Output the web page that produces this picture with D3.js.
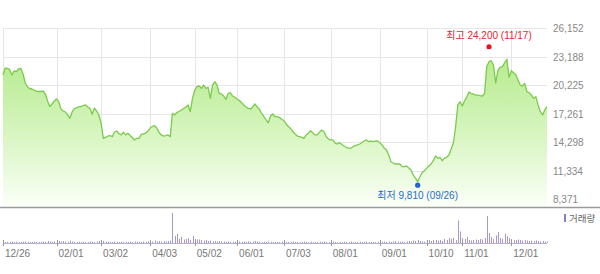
<!DOCTYPE html>
<html><head><meta charset="utf-8">
<script src="https://cdn.jsdelivr.net/npm/d3@7/dist/d3.min.js"></script>
<style>
body{margin:0;background:#fff;}
svg{display:block;font-family:"Liberation Sans",Arial,"Noto Sans CJK KR",sans-serif;}
</style>
</head><body>
<svg id="chart" width="600" height="274"></svg>
<script>
// ---- data ----
const startDate = "2016-12-26";
const endDate = "2017-12-26";
const holidays = ["2016-12-30","2017-01-27","2017-01-30","2017-03-01","2017-05-01","2017-05-03",
  "2017-05-05","2017-05-09","2017-06-06","2017-08-15","2017-10-02","2017-10-03","2017-10-04",
  "2017-10-05","2017-10-06","2017-10-09","2017-12-25"];

const closes = [
21260,21990,21940,21840,21260,21680,21630,21890,21940,21370,
20430,20020,19860,19810,19700,19600,19550,19550,19600,19290,
18560,17970,18250,18560,18770,18490,17730,17520,17420,17110,
16760,17420,17780,17860,17940,17990,18090,18150,17940,17800,
17180,17830,17520,17110,16270,14680,14770,14920,14970,14850,
15340,15440,15180,15030,15310,15030,15200,14970,14770,14510,
14680,14680,15080,15130,15230,15440,15750,15910,15990,15750,
15290,15030,14920,14970,15030,14850,17280,17110,17370,17470,
17630,17780,17940,18150,17450,18840,19700,20070,20120,19880,
20220,19880,19990,18840,20220,20570,20220,19360,19290,19080,
18740,19360,19420,19080,18950,18770,18610,18380,18150,17940,
17800,17730,17940,18250,17940,17700,17280,16950,16590,16300,
17000,17210,16930,16930,16850,16660,16530,16170,15910,15700,
15390,15130,14920,14850,14770,14680,15030,15230,15470,15230,
15030,15030,15340,15550,15370,14850,14610,14510,14510,14190,
14090,14230,14040,13880,13750,13670,13640,13810,13930,13990,
14090,14250,14400,14510,14330,14400,14330,14400,14400,14230,
13990,13670,13470,12950,12250,12110,12010,12010,12010,11730,
11750,11800,11590,11390,10870,10550,10170,10690,11110,11310,
11560,11800,12010,12350,12840,12600,12710,12350,12630,12710,
12950,13570,14190,15860,18150,18490,18040,18560,18980,19500,
19340,19290,19180,19180,19130,19080,19360,22200,22650,22750,
22300,20460,21780,22070,22130,22540,22900,21030,21710,21500,
21320,20740,20220,20120,20400,19530,19420,19180,18840,19010,
18150,17450,17110,17630,17970];

// volume, thousand shares
const volumes = [
150,100,120,100,150,100,120,100,100,130,150,
120,100,100,120,100,100,130,150,120,200,150,120,150,250,
200,150,200,150,120,250,150,120,100,120,100,120,100,100,150,120,100,150,200,
300,200,150,120,120,100,150,120,100,120,100,130,100,120,100,150,120,120,100,150,120,180,
200,150,250,150,200,150,200,150,200,250,
3000,
700,900,400,600,350,400,500,300,700,400,350,350,
300,250,300,200,250,150,200,150,200,150,150,120,150,120,150,120,200,150,120,150,120,150,
120,150,200,150,120,100,120,100,150,120,100,120,100,100,150,100,120,100,120,150,
100,120,80,100,150,100,80,120,100,80,100,120,100,150,100,80,100,150,100,80,
100,80,120,100,100,150,100,80,100,120,100,100,150,100,120,100,100,120,150,120,
150,120,150,100,150,200,150,120,150,120,150,200,150,250,200,300,200,150,120,250,
300,200,300,300,250,300,200,400,300,500,400,500,300,
2260,1160,
500,400,600,300,250,300,350,300,400,350,500,
2700,1000,
600,400,770,1100,500,400,930,700,500,400,300,300,
350,300,250,300,250,200,250,200,250,200,150,200,150,150];

const priceTicks = [8371, 11334, 14298, 17261, 20225, 23188, 26152];
const dateTicks = ["2016-12-26","2017-02-01","2017-03-02","2017-04-03","2017-05-02","2017-06-01",
  "2017-07-03","2017-08-01","2017-09-01","2017-10-10","2017-11-01","2017-12-01"];
const dateTickLabels = ["12/26","02/01","03/02","04/03","05/02","06/01","07/03","08/01","09/01","10/10","11/01","12/01"];
const highPoint = {date:"2017-11-17", value:24200, label:"최고 24,200 (11/17)"};
const lowPoint = {date:"2017-09-26", value:9810, label:"최저 9,810 (09/26)"};
const volumeLegend = "거래량";

// ---- trading dates ----
const hol = new Set(holidays);
const dates = [];
for (let d = new Date(startDate + "T00:00:00Z"); d <= new Date(endDate + "T00:00:00Z"); d.setUTCDate(d.getUTCDate() + 1)) {
  const wd = d.getUTCDay();
  const s = d.toISOString().slice(0, 10);
  if (wd === 0 || wd === 6 || hol.has(s)) continue;
  dates.push(s);
}
const n = Math.min(dates.length, closes.length);
const data = d3.range(n).map(i => ({date: dates[i], close: closes[i], vol: volumes[i] || 0}));

// ---- scales ----
const svg = d3.select("#chart");
const x = d3.scalePoint().domain(data.map(d => d.date)).range([3, 547]);
const y = d3.scaleLinear().domain([8371, 26152]).range([199, 28]);
const plotBottom = 207;
const yv = d3.scaleLinear().domain([0, d3.max(data, d => d.vol)]).range([243, 213]);

// gradient
const defs = svg.append("defs");
const grad = defs.append("linearGradient").attr("id", "g").attr("gradientUnits", "userSpaceOnUse")
  .attr("x1", 0).attr("x2", 0).attr("y1", 40).attr("y2", plotBottom);
grad.append("stop").attr("offset", 0).attr("stop-color", "#aee882");
grad.append("stop").attr("offset", 0.55).attr("stop-color", "#d6f5bf");
grad.append("stop").attr("offset", 1).attr("stop-color", "#fbfff8");

// grid
const grid = svg.append("g").attr("stroke", "#e6e6e6").attr("stroke-width", 1).attr("shape-rendering", "crispEdges");
grid.selectAll(".h").data(priceTicks).join("line")
  .attr("x1", 3).attr("x2", 547).attr("y1", d => Math.round(y(d)) + 0.5).attr("y2", d => Math.round(y(d)) + 0.5);
grid.selectAll(".v").data(dateTicks).join("line")
  .attr("x1", d => Math.round(x(d)) + 0.5).attr("x2", d => Math.round(x(d)) + 0.5)
  .attr("y1", 28).attr("y2", plotBottom);

// area + line
const area = d3.area().x(d => x(d.date)).y0(plotBottom).y1(d => y(d.close));
const line = d3.line().x(d => x(d.date)).y(d => y(d.close));
svg.append("path").datum(data).attr("d", area).attr("fill", "url(#g)");
svg.append("path").datum(data).attr("d", line).attr("fill", "none")
  .attr("stroke", "#7acb4c").attr("stroke-width", 1.3).attr("stroke-linejoin", "round");

// plot bottom border
svg.append("line").attr("x1", 0).attr("x2", 600).attr("y1", plotBottom + 0.5).attr("y2", plotBottom + 0.5)
  .attr("stroke", "#9a9a9a").attr("stroke-width", 1.5);

// right axis labels
svg.append("g").selectAll("text").data(priceTicks).join("text")
  .attr("x", 553).attr("y", d => y(d) + 4)
  .attr("font-size", 10).attr("fill", "#888")
  .text(d => d3.format(",")(d));

// high / low markers
svg.append("circle").attr("cx", x(highPoint.date)).attr("cy", y(highPoint.value)).attr("r", 2.6).attr("fill", "#e8141c");
svg.append("text").attr("x", x(highPoint.date)).attr("y", y(highPoint.value) - 8)
  .attr("text-anchor", "middle").attr("font-size", 10).attr("fill", "#e3262d").text(highPoint.label);
svg.append("circle").attr("cx", x(lowPoint.date)).attr("cy", y(lowPoint.value)).attr("r", 2.6).attr("fill", "#1f63d6");
svg.append("text").attr("x", x(lowPoint.date)).attr("y", y(lowPoint.value) + 14)
  .attr("text-anchor", "middle").attr("font-size", 10).attr("fill", "#2c6bc9").text(lowPoint.label);

// volume bars
svg.append("g").selectAll("rect").data(data).join("rect")
  .attr("x", d => Math.round(x(d.date))).attr("width", 1)
  .attr("y", d => yv(d.vol)).attr("height", d => 243 - yv(d.vol))
  .attr("fill", "#a797cf");
// volume baseline & ticks
svg.append("line").attr("x1", 3).attr("x2", 547).attr("y1", 243.5).attr("y2", 243.5)
  .attr("stroke", "#b5aed0").attr("stroke-width", 1);
svg.append("g").selectAll("line").data(dateTicks).join("line")
  .attr("x1", d => Math.round(x(d)) + 0.5).attr("x2", d => Math.round(x(d)) + 0.5)
  .attr("y1", 240).attr("y2", 246).attr("stroke", "#999");

// date labels
svg.append("g").selectAll("text").data(dateTicks).join("text")
  .attr("x", d => x(d) + 2).attr("y", 257)
  .attr("font-size", 10).attr("fill", "#777")
  .text((d, i) => dateTickLabels[i]);

// legend
svg.append("rect").attr("x", 564).attr("y", 214).attr("width", 2).attr("height", 8).attr("fill", "#8a7cc0");
svg.append("text").attr("x", 569).attr("y", 221.5).attr("font-size", 9.5).attr("fill", "#666").text(volumeLegend);
</script>
</body></html>
